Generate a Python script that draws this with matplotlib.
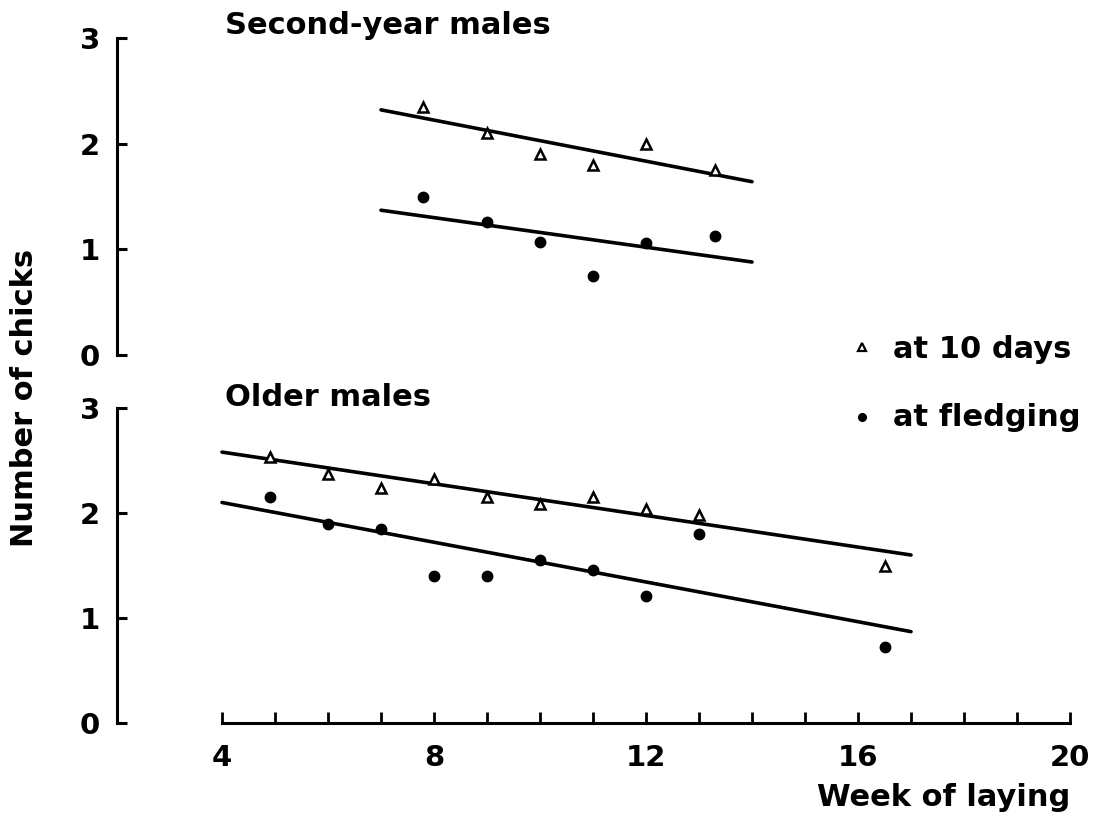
import matplotlib
matplotlib.use("Agg")
import matplotlib.pyplot as plt
from matplotlib.lines import Line2D

plt.rcParams['font.family'] = ['DejaVu Sans']
plt.rcParams['font.weight'] = 'bold'

# Second-year males
sy_week = [7.8, 9.0, 10.0, 11.0, 12.0, 13.3]
sy_10days = [2.35, 2.10, 1.90, 1.80, 2.00, 1.75]
sy_fledge = [1.50, 1.26, 1.07, 0.75, 1.06, 1.13]
sy_fit_x = [7.0, 14.0]
sy_fit_10days = [2.32, 1.64]
sy_fit_fledge = [1.37, 0.88]

# Older males
old_week = [4.9, 6.0, 7.0, 8.0, 9.0, 10.0, 11.0, 12.0, 13.0, 16.5]
old_10days = [2.53, 2.37, 2.24, 2.32, 2.15, 2.09, 2.15, 2.04, 1.98, 1.50]
old_fledge = [2.15, 1.90, 1.85, 1.40, 1.40, 1.55, 1.46, 1.21, 1.80, 0.72]
old_fit_x = [4.0, 17.0]
old_fit_10days = [2.58, 1.60]
old_fit_fledge = [2.10, 0.87]

panel_titles = ["Second-year males", "Older males"]
y_ticks = [0, 1, 2, 3]
x_ticks = [4, 8, 12, 16, 20]
x_minor = list(range(4, 21))
legend_labels = ["at 10 days", "at fledging"]

W, H = 1100, 818
fig = plt.figure(figsize=(W / 100, H / 100), dpi=100)

left_px, right_px = 117, 1070
x4_px = 222
px_per_week = (right_px - x4_px) / 16.0
xmin = 4 - (x4_px - left_px) / px_per_week

TICK_FS = 21
TEXT_FS = 22

def make_ax(top_px, bot_px):
    ax = fig.add_axes([left_px / W, 1 - bot_px / H, (right_px - left_px) / W,
                       (bot_px - top_px) / H])
    ax.set_xlim(xmin, 20)
    ax.set_ylim(0, 3)
    for s in ['top', 'right']:
        ax.spines[s].set_visible(False)
    ax.spines['left'].set_linewidth(2.2)
    ax.spines['left'].set_bounds(0, 3)
    ax.set_yticks(y_ticks)
    ax.tick_params(axis='y', direction='in', length=7, width=2.2,
                   labelsize=TICK_FS, pad=12)
    for lab in ax.get_yticklabels():
        lab.set_fontweight('bold')
    ax.patch.set_alpha(0)
    return ax

ax_top = make_ax(38, 355)
ax_bot = make_ax(408, 723)

ax_top.spines['bottom'].set_visible(False)
ax_top.set_xticks([])

ax_bot.spines['bottom'].set_linewidth(2.2)
ax_bot.spines['bottom'].set_bounds(4, 20)
ax_bot.set_xticks(x_ticks)
ax_bot.set_xticks(x_minor, minor=True)
ax_bot.tick_params(axis='x', which='both', direction='in', length=8, width=2,
                   labelsize=TICK_FS, pad=15)
for lab in ax_bot.get_xticklabels():
    lab.set_fontweight('bold')

mk_tri = dict(marker='^', markersize=7.5, markerfacecolor='white',
              markeredgecolor='black', markeredgewidth=1.8, linestyle='none')
mk_dot = dict(marker='o', markersize=7.5, color='black', linestyle='none')

for ax, wk, a, b, fx, fa, fb in [
        (ax_top, sy_week, sy_10days, sy_fledge, sy_fit_x, sy_fit_10days, sy_fit_fledge),
        (ax_bot, old_week, old_10days, old_fledge, old_fit_x, old_fit_10days, old_fit_fledge)]:
    ax.plot(fx, fa, color='black', lw=2.6, solid_capstyle='round')
    ax.plot(fx, fb, color='black', lw=2.6, solid_capstyle='round')
    ax.plot(wk, a, **mk_tri)
    ax.plot(wk, b, **mk_dot)

fig.text(225 / W, 1 - 25 / H, panel_titles[0], fontsize=TEXT_FS, fontweight='bold',
         ha='left', va='center')
fig.text(225 / W, 1 - 398 / H, panel_titles[1], fontsize=TEXT_FS, fontweight='bold',
         ha='left', va='center')

fig.text(25 / W, 1 - 398 / H, "Number of chicks", fontsize=TEXT_FS, fontweight='bold',
         rotation=90, ha='center', va='center')
fig.text(1070 / W, 1 - 797 / H, "Week of laying", fontsize=TEXT_FS, fontweight='bold',
         ha='right', va='center')

# legend
fig.lines.append(Line2D([862 / W], [1 - 347 / H], transform=fig.transFigure,
                        marker='^', markersize=5.5, markerfacecolor='white',
                        markeredgecolor='black', markeredgewidth=1.6, linestyle='none'))
fig.lines.append(Line2D([862 / W], [1 - 417 / H], transform=fig.transFigure,
                        marker='o', markersize=5.5, color='black', linestyle='none'))
fig.text(893 / W, 1 - 349 / H, legend_labels[0], fontsize=TEXT_FS, fontweight='bold',
         ha='left', va='center')
fig.text(893 / W, 1 - 418 / H, legend_labels[1], fontsize=TEXT_FS, fontweight='bold',
         ha='left', va='center')

fig.savefig("out.png", dpi=100, facecolor='white')
